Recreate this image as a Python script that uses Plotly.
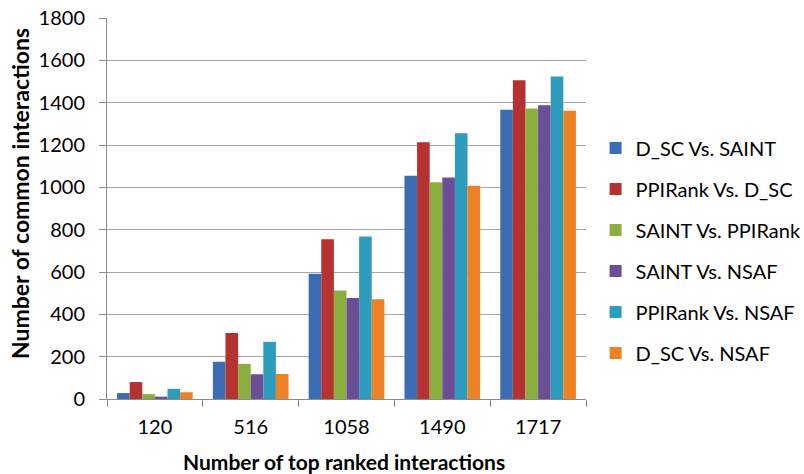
import plotly.graph_objects as go

categories = ["120", "516", "1058", "1490", "1717"]
series_names = ["D_SC Vs. SAINT", "PPIRank Vs. D_SC", "SAINT Vs. PPIRank",
                "SAINT Vs. NSAF", "PPIRank Vs. NSAF", "D_SC Vs. NSAF"]
dsc_saint = [28, 176, 592, 1055, 1366]
ppirank_dsc = [80, 312, 755, 1213, 1506]
saint_ppirank = [23, 166, 513, 1024, 1373]
saint_nsaf = [11, 117, 477, 1047, 1388]
ppirank_nsaf = [48, 270, 768, 1256, 1524]
dsc_nsaf = [32, 118, 471, 1008, 1362]
series_values = [dsc_saint, ppirank_dsc, saint_ppirank, saint_nsaf, ppirank_nsaf, dsc_nsaf]
colors = ["#3A6DB3", "#B53230", "#8AAF3F", "#6C4E98", "#2E9DBC", "#EC8224"]
y_ticks = [0, 200, 400, 600, 800, 1000, 1200, 1400, 1600, 1800]

FONT = "Lato"
fig = go.Figure()
for i, (name, vals, col) in enumerate(zip(series_names, series_values, colors)):
    fig.add_trace(go.Bar(x=categories, y=vals, name=name, marker_color=col,
                         marker_line_width=0, legendgroup=f"g{i}"))

fig.update_layout(
    width=804, height=474,
    margin=dict(l=107, r=218, t=18, b=75, autoexpand=False),
    plot_bgcolor="white", paper_bgcolor="white",
    barmode="group", bargap=0.21, bargroupgap=0.0,
    font=dict(family=FONT, size=20, color="#000000"),
    legend=dict(x=1.02, xanchor="left", y=0.39, yanchor="middle",
                font=dict(family=FONT, size=20, color="#000000"),
                tracegroupgap=12, itemwidth=30),
    xaxis=dict(type="category", showline=True, linecolor="#8C8C8C", linewidth=1,
               ticks="outside", tickson="boundaries", ticklen=7, tickcolor="#8C8C8C",
               tickfont=dict(size=20), automargin=False, ticklabelstandoff=10),
    yaxis=dict(range=[0, 1800], tickvals=y_ticks, showgrid=True, gridcolor="#A6A6A6",
               gridwidth=1, showline=True, linecolor="#8C8C8C", linewidth=1,
               ticks="outside", ticklen=7, tickcolor="#8C8C8C", zeroline=False,
               tickfont=dict(size=20), automargin=False, ticklabelstandoff=10),
    annotations=[
        dict(text="<b>Number of top ranked interactions</b>", xref="paper", yref="paper",
             x=0.494, y=-0.165, xanchor="center", yanchor="middle", showarrow=False,
             font=dict(size=21)),
        dict(text="<b>Number of common interactions</b>", xref="paper", yref="paper",
             x=-0.182, y=0.54, xanchor="center", yanchor="middle", showarrow=False,
             textangle=-90, font=dict(size=23)),
    ],
)
fig.write_html("out.html", config={"displayModeBar": False},
               post_script="document.body.style.margin='0';")
